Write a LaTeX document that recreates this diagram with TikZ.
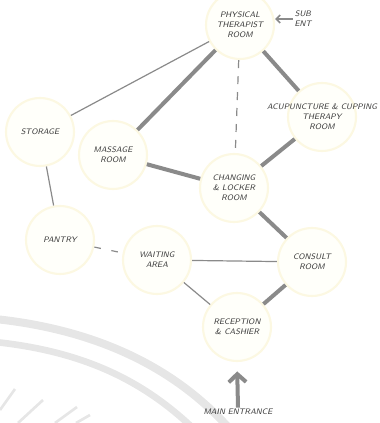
\documentclass[tikz,border=0pt]{standalone}
\usepackage{tikz}
\usetikzlibrary{arrows.meta,calc,positioning}
\definecolor{ink}{HTML}{3C3C3C}
\definecolor{link}{HTML}{8A8A8A}
\definecolor{halo}{HTML}{FCF8E2}
\definecolor{halofill}{HTML}{FFFFFA}
\definecolor{wmark}{HTML}{E6E6E6}

\begin{document}
\begin{tikzpicture}[x=0.75pt,y=-0.75pt,>=Stealth,
  font=\fontsize{6}{7.5}\selectfont\sffamily\slshape,
  room/.style={circle,minimum size=51pt,inner sep=0pt,draw=halo,line width=1.6pt,fill=halofill},
  roomtext/.style={text=ink,align=center,inner sep=1pt},
  mainlink/.style={draw=link,line width=3pt},
  sidelink/.style={draw=link,line width=0.9pt}]
\useasboundingbox (0,0) rectangle (379,423);
% faint marks in the background
\begin{scope}
\clip (0,0) rectangle (379,423);
\draw[wmark,line width=6pt] (-5,319) .. controls (100,330) and (180,370) .. (235,435);
\draw[wmark,line width=5pt] (-5,342) .. controls (90,352) and (150,385) .. (200,435);
\draw[wmark,line width=2pt] (0,410) -- (15,389);
\draw[wmark,line width=2pt] (18,423) -- (43,400);
\draw[wmark,line width=2pt] (55,423) -- (77,407);
\draw[wmark,line width=2pt] (76,423) -- (90,415);
\end{scope}
% rooms (circle, then its name on top)
\foreach \n/\x/\y in {phys/240/25,acup/322/117,storage/40/132,massage/113/155,changing/234/188,
                      pantry/60/240,waiting/157/260,consult/312/262,reception/237/327}
  \node[room] (\n) at (\x,\y) {};
\node[roomtext] (physname) at (phys) {PHYSICAL\\THERAPIST\\ROOM};
\node[roomtext] (acupname) at (acup) {ACUPUNCTURE \& CUPPING\\THERAPY\\ROOM};
\node[roomtext] (storagename) at (storage) {STORAGE};
\node[roomtext] (massagename) at (massage) {MASSAGE\\ROOM};
\node[roomtext] (changingname) at (changing) {CHANGING\\\& LOCKER\\ROOM};
\node[roomtext] (pantryname) at (pantry) {PANTRY};
\node[roomtext] (waitingname) at (waiting) {WAITING\\AREA};
\node[roomtext] (consultname) at (consult) {CONSULT\\ROOM};
\node[roomtext] (receptionname) at (reception) {RECEPTION\\\& CASHIER};
% entrances
\node[roomtext] (subent) at (303,19) {SUB\\ENT};
\node[roomtext] (mainent) at (238,412) {MAIN ENTRANCE};
\draw[-{Straight Barb[length=3pt,width=6pt]},draw=link,line width=1.2pt] (subent.west) -- (subent.west -| phys.east);
\draw[-{Straight Barb[length=6pt,width=13pt]},draw=link,line width=3pt,shorten >=7pt] (mainent.north) -- (reception.south);
% links between rooms
\foreach \a/\b in {phys/massage,phys/acup,acup/changing,massage/changing,changing/consult,consult/reception}
  \draw[mainlink] (\a) -- (\b);
\foreach \a/\b in {phys/storage,storage/pantry,waiting/consult,waiting/reception}
  \draw[sidelink] (\a) -- (\b);
\draw[sidelink,dash pattern=on 6pt off 6pt] (phys) -- (changing);
\draw[sidelink,dash pattern=on 5pt off 8pt] (pantry) -- (waiting);
\end{tikzpicture}
\end{document}
